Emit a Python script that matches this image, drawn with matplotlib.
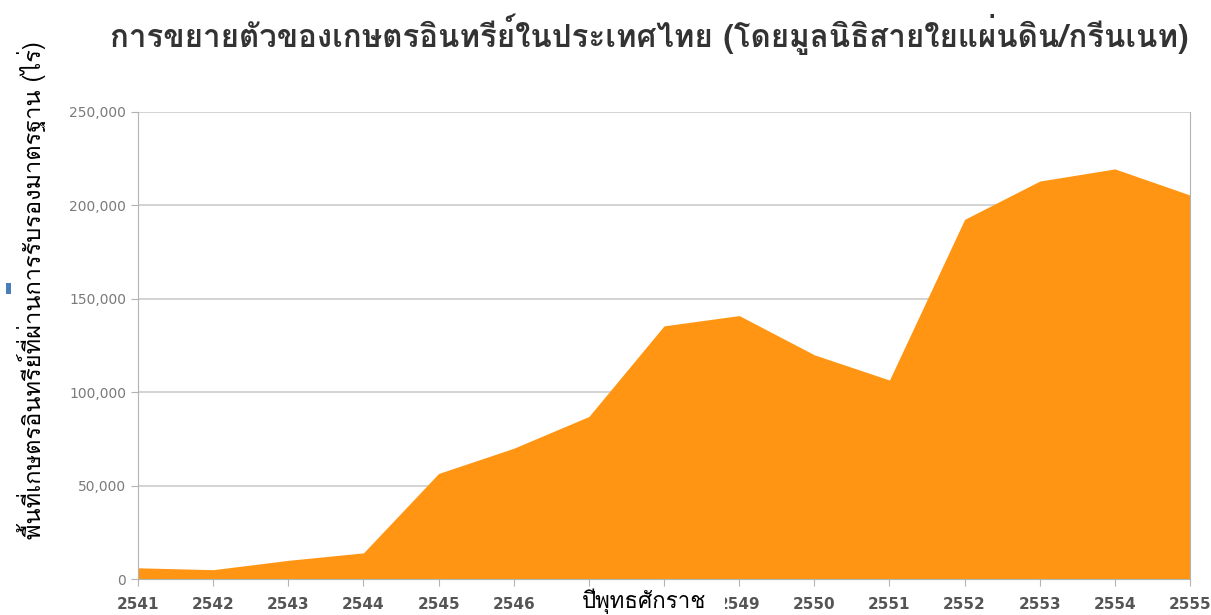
import matplotlib
matplotlib.use("Agg")
import matplotlib.pyplot as plt
from matplotlib import font_manager
from matplotlib.ft2font import FT2Font
from matplotlib.ticker import FuncFormatter

years = [2541, 2542, 2543, 2544, 2545, 2546, 2547, 2548, 2549, 2550, 2551, 2552, 2553, 2554, 2555]
area_rai = [6000, 5000, 10000, 14000, 56500, 70000, 87000, 135500, 141000, 120000, 106500, 192500, 213000, 219500, 205500]
y_ticks = [0, 50000, 100000, 150000, 200000, 250000]
# 2547 and 2548 are hidden behind the x-axis title box in the reference
x_tick_labels = ["2541", "2542", "2543", "2544", "2545", "2546", "", "", "2549",
                 "2550", "2551", "2552", "2553", "2554", "2555"]

title = "การขยายตัวของเกษตรอินทรีย์ในประเทศไทย (โดยมูลนิธิสายใยแผ่นดิน/กรีนเนท)"
ylabel = "พื้นที่เกษตรอินทรีย์ที่ผ่านการรับรองมาตรฐาน (ไร่)"
xlabel = "ปีพุทธศักราช"

# find fonts with Thai glyphs
thai_regular, thai_bold = [], []
for f in font_manager.fontManager.ttflist:
    try:
        cm = FT2Font(f.fname).get_charmap()
    except Exception:
        continue
    if 0x0E01 in cm and 0x0E35 in cm:
        w = f.weight if isinstance(f.weight, int) else (700 if 'bold' in str(f.weight).lower() else 400)
        if w >= 600:
            thai_bold.append(f.name)
        else:
            thai_regular.append(f.name)
fams = list(dict.fromkeys(thai_regular + thai_bold))
fam_list = fams + ["DejaVu Sans"]

fig = plt.figure(figsize=(12.11, 6.15), dpi=100)
ax = fig.add_axes([0.114, 0.0585, 0.8687, 0.7595])

ax.fill_between(years, area_rai, 0, color="#ff9512", linewidth=0, zorder=2)
ax.set_xlim(years[0], years[-1])
ax.set_ylim(0, 250000)
ax.set_yticks(y_ticks)
ax.set_xticks(years)
ax.set_xticklabels(x_tick_labels)
ax.yaxis.set_major_formatter(FuncFormatter(lambda v, p: f"{int(v):,}"))
ax.grid(axis="y", color="#cccccc", linewidth=1.2, zorder=1)
ax.spines["top"].set_visible(False)
for s in ["left", "right", "bottom"]:
    ax.spines[s].set_color("#b3b3b3")
ax.tick_params(axis="y", colors="#b3b3b3", labelcolor="#7a7a7a", labelsize=10, length=5)
ax.tick_params(axis="x", colors="#b3b3b3", labelcolor="#555555", labelsize=11, length=5, pad=8)
for lab in ax.get_xticklabels():
    lab.set_fontweight("bold")

fig.text(0.536, 0.945, title, ha="center", va="center", fontsize=22.5, fontweight="bold",
         color="#333333", family=fam_list)
fig.text(0.026, 0.528, ylabel, ha="center", va="center", rotation=90, fontsize=17,
         color="#000000", family=fam_list)

# white box behind the x-axis title
fig.patches.append(plt.Rectangle((563 / 1211, 0.0), 162 / 1211, 28 / 615, transform=fig.transFigure,
                                 facecolor="white", edgecolor="none", zorder=5))
fig.text(0.532, 0.022, xlabel, ha="center", va="center", fontsize=16, color="#000000",
         family=fam_list, zorder=6)
fig.patches.append(plt.Rectangle((0.005, 0.522), 0.004, 0.018, transform=fig.transFigure,
                                 facecolor="#4a7ebb", edgecolor="none"))

fig.savefig("out.png", dpi=100)
